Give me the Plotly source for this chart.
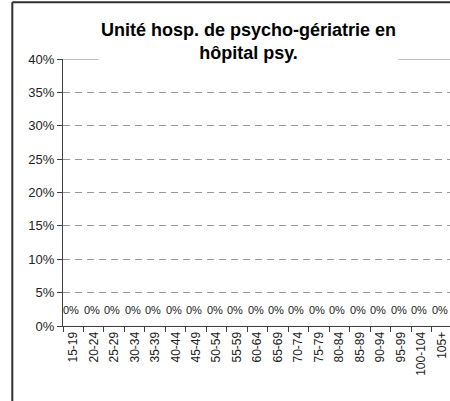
import plotly.graph_objects as go

# age groups and share of patients (all zero in this unit)
age_groups = ['15-19', '20-24', '25-29', '30-34', '35-39', '40-44', '45-49', '50-54', '55-59',
              '60-64', '65-69', '70-74', '75-79', '80-84', '85-89', '90-94', '95-99', '100-104', '105+']
shares = [0.0] * len(age_groups)
y_ticks = [0, 0.05, 0.10, 0.15, 0.20, 0.25, 0.30, 0.35, 0.40]

title_text = 'Unité hosp. de psycho-gériatrie en<br>hôpital psy.'
font = 'Liberation Sans, Arial, sans-serif'
n = len(age_groups)

fig = go.Figure()
fig.add_trace(go.Bar(x=age_groups, y=shares, marker={'color': '#4f6fa8'}, showlegend=False, hoverinfo='skip'))

# data labels above each (empty) bar
for cat, val in zip(age_groups, shares):
    fig.add_annotation(x=cat, y=val, text=f'{val:.0%}', showarrow=False, yshift=16, xshift=-2,
                       font={'family': font, 'size': 11, 'color': '#222'})

# title with white box over the top line
fig.add_annotation(x=0.48, xref='paper', y=1.158, yref='paper', text=f'<b>{title_text}</b>',
                   showarrow=False, bgcolor='white', align='center', borderpad=2,
                   font={'family': font, 'size': 18, 'color': 'black'})

# solid top line at 40% and outer chart border
fig.add_shape(type='line', xref='paper', yref='y', x0=0, x1=1, y0=0.4, y1=0.4,
              line={'color': '#808080', 'width': 1}, layer='below')
fig.add_shape(type='line', xref='paper', yref='paper', x0=-0.131, x1=-0.131, y0=-0.5, y1=1.213,
              line={'color': '#303030', 'width': 2})
fig.add_shape(type='line', xref='paper', yref='paper', x0=-0.131, x1=1.1, y0=1.213, y1=1.213,
              line={'color': '#303030', 'width': 2})

fig.update_layout(
    width=450, height=401,
    margin={'l': 63, 'r': 0, 't': 59, 'b': 75},
    plot_bgcolor='white', paper_bgcolor='white',
    font={'family': font, 'size': 12, 'color': '#222'},
    xaxis={'type': 'category', 'range': [-0.5, n - 0.6], 'tickangle': -90,
           'tickson': 'boundaries', 'ticks': 'outside', 'ticklen': 5, 'tickcolor': '#404040',
           'showline': True, 'linecolor': '#404040', 'linewidth': 1, 'showgrid': False,
           'tickfont': {'family': font, 'size': 12, 'color': '#222'}},
    yaxis={'range': [0, 0.4], 'tickvals': y_ticks, 'tickformat': '.0%', 'ticks': 'outside',
           'ticklen': 5, 'tickcolor': '#404040', 'showline': True, 'linecolor': '#404040',
           'linewidth': 1, 'showgrid': True, 'gridcolor': '#999999', 'griddash': '7px,5px',
           'zeroline': False, 'tickfont': {'family': font, 'size': 13, 'color': '#222'}},
)

fig.write_html('out.html', config={'displayModeBar': False},
               post_script="document.body.style.margin='0';document.body.style.overflow='hidden';")
